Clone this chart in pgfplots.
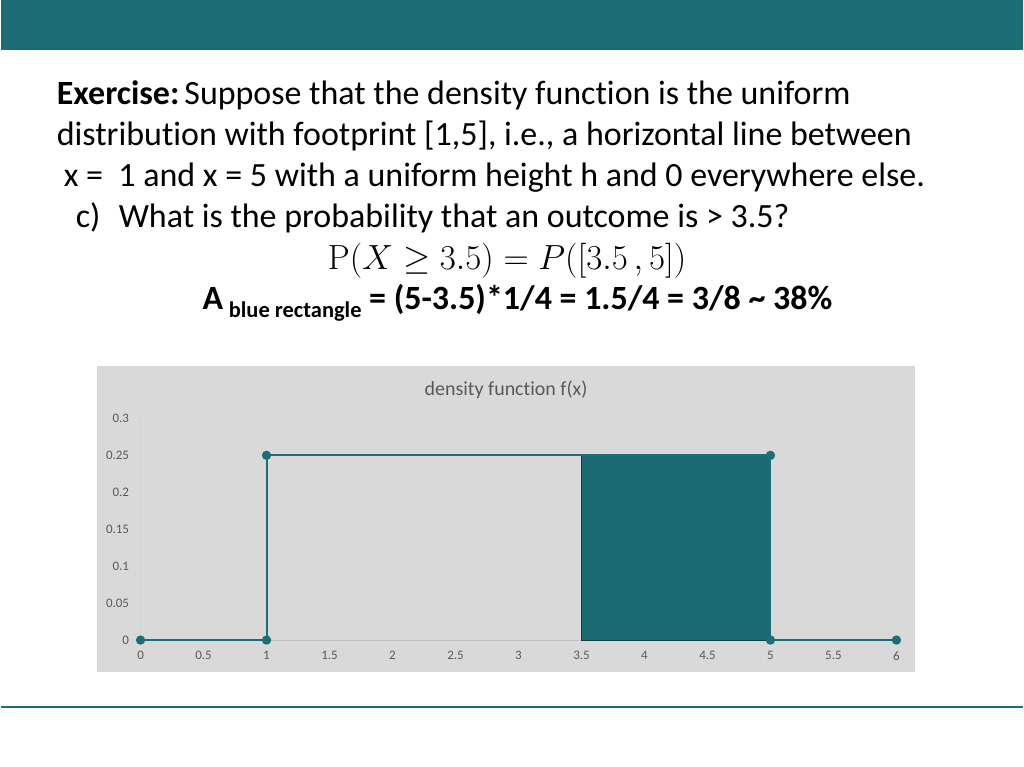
\RequirePackage{fix-cm}
\documentclass[border=0pt]{standalone}
\usepackage[no-math]{fontspec}
\setmainfont{Carlito}[Ligatures=NoCommon]
\usepackage{pgfplots}
\pgfplotsset{compat=1.18}
\definecolor{band}{HTML}{1B6C75}
\definecolor{serie}{HTML}{1B6E76}
\definecolor{area}{HTML}{1A6A73}
\definecolor{chartbg}{HTML}{D9D9D9}
\definecolor{txtgray}{HTML}{595959}
\begin{document}
\begin{tikzpicture}[x=1pt,y=1pt]
% slide frame
\fill[white] (0,0) rectangle (1024,768);
\fill[band] (0,718) rectangle (1024,768);
\draw[band,line width=1.5pt] (0,60) -- (1024,60);
% slide text
\begin{scope}[every node/.style={inner sep=0pt,anchor=base west}]
\node at (56,663) {\fontsize{34}{41}\selectfont\textbf{Exercise:}\kern5pt Suppose that the density function is the uniform};
\node at (56,622) {\fontsize{34}{41}\selectfont distribution with footprint [1,5], i.e., a horizontal line between};
\node at (63,581) {\fontsize{34}{41}\selectfont x =\ \ 1 and x = 5 with a uniform height h and 0 everywhere else.};
\node at (75,540) {\fontsize{34}{41}\selectfont c)};
\node at (118,540) {\fontsize{34}{41}\selectfont What is the probability that an outcome is > 3.5?};
\node[anchor=base] at (507,498) {\fontsize{35}{42}\selectfont $\mathrm{P}(X \geq 3.5) = P([3.5\,,5])$};
\node at (202,458) {\fontsize{34}{41}\selectfont\bfseries A\,\raisebox{-8pt}{\fontsize{22.5}{27}\selectfont blue rectangle} = (5-3.5)*1/4 = 1.5/4 = 3/8 \textasciitilde{} 38\%};
\end{scope}
% chart area
\fill[chartbg] (96,95) rectangle (916,401);
\node[txtgray] at (506,378) {\fontsize{20}{24}\selectfont density function f(x)};
\begin{axis}[
  at={(140pt,127pt)}, anchor=south west,
  scale only axis, width=757pt, height=222pt,
  xmin=0, xmax=6, ymin=0, ymax=0.3,
  axis x line=bottom, axis y line=left,
  x axis line style={-,draw=black!25,line width=1pt},
  y axis line style={-,draw=black!18,line width=1pt},
  xtick={0,0.5,...,6},
  xticklabels={0,0.5,1,1.5,2,2.5,3,3.5,4,4.5,5,5.5,6},
  ytick={0,0.05,0.1,0.15,0.2,0.25,0.3},
  yticklabels={0,0.05,0.1,0.15,0.2,0.25,0.3},
  major tick length=0pt,
  tick label style={font=\fontsize{13}{15}\selectfont, text=txtgray},
  xticklabel style={yshift=-8pt},
  yticklabel style={xshift=-8pt},
  /pgf/number format/assume math mode=true,
  clip=false,
]
\addplot[fill=area, draw=black!40!area, line width=0.8pt] coordinates {(3.5,0) (3.5,0.25) (5,0.25) (5,0)} -- cycle;
\addplot[serie, line width=2pt, mark=*, mark size=3.6pt, mark options={fill=serie,draw=serie}]
  coordinates {(0,0) (1,0) (1,0.25) (5,0.25) (5,0) (6,0)};
\end{axis}
\end{tikzpicture}
\end{document}
